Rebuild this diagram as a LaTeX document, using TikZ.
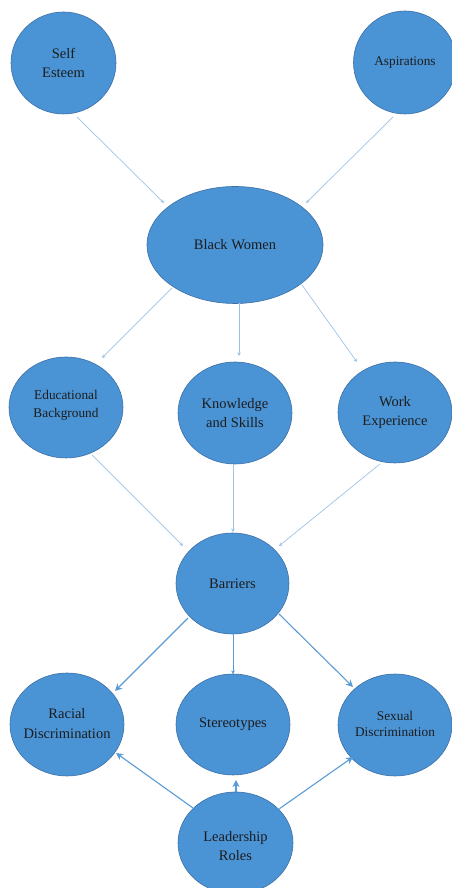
\documentclass[tikz,border=0pt]{standalone}
\usepackage{fontspec}
\setmainfont{Liberation Serif}
\usetikzlibrary{shapes.geometric,arrows.meta,calc}
\definecolor{nodefill}{RGB}{74,148,214}
\definecolor{nodeline}{RGB}{60,110,165}
\definecolor{txt}{RGB}{28,28,28}
\definecolor{lightarr}{RGB}{157,195,230}
\definecolor{darkarr}{RGB}{91,155,213}
\tikzset{
  nd/.style={ellipse, fill=nodefill, draw=nodeline, line width=0.6pt, inner sep=0pt, outer sep=0pt},
  big/.style={font=\fontsize{14.5}{19.5}\selectfont, text=txt, align=center, inner sep=0pt},
  small/.style={font=\fontsize{13.3}{17.5}\selectfont, text=txt, align=center, inner sep=0pt},
  thinarr/.style={draw=lightarr, line width=0.7pt, -{Stealth[length=3.5pt,width=3.5pt]}},
  midarr/.style={draw=darkarr, line width=0.8pt, -{Stealth[length=3.5pt,width=3.5pt]}},
  thickarr/.style={draw=darkarr, line width=1.1pt, -{Stealth[length=7pt,width=7pt,inset=2pt]}},
}
\begin{document}
\begin{tikzpicture}[x=1pt,y=1pt]
\useasboundingbox (0,0) rectangle (452,888);
\node[nd, minimum width=105pt, minimum height=102pt, label={[big]center:{Self\\Esteem}}] (se) at (63.5,825) {};
\node[nd, minimum width=103pt, minimum height=103pt, label={[small]center:{Aspirations}}] (asp) at (405,825.5) {};
\node[nd, minimum width=176pt, minimum height=117pt, label={[big]center:{Black Women}}] (bw) at (235,643) {};
\node[nd, minimum width=114pt, minimum height=101pt, label={[small,yshift=2pt]center:{Educational\\Background}}] (edu) at (66,480.5) {};
\node[nd, minimum width=114pt, minimum height=102pt, label={[big]center:{Knowledge\\and Skills}}] (ks) at (235,475) {};
\node[nd, minimum width=114pt, minimum height=101pt, label={[big]center:{Work\\Experience}}] (we) at (395,475.5) {};
\node[nd, minimum width=113pt, minimum height=101pt, label={[big]center:{Barriers}}] (bar) at (232.5,304.5) {};
\node[nd, minimum width=114pt, minimum height=103pt, label={[big,yshift=1pt]center:{Racial\\Discrimination}}] (rac) at (67,163.5) {};
\node[nd, minimum width=114pt, minimum height=101pt, label={[big]center:{Stereotypes}}] (ste) at (233,163.5) {};
\node[nd, minimum width=114pt, minimum height=102pt, label={[small,font=\fontsize{13.3}{15.5}\selectfont,yshift=1pt]center:{Sexual\\Discrimination}}] (sex) at (395,163) {};
\node[nd, minimum width=115pt, minimum height=102pt, label={[big,yshift=-3pt]center:{Leadership\\Roles}}] (lead) at (235.5,45) {};

\draw[thinarr] ($(se)+(13.5,-54)$) -- ($(bw)+(-71,42)$);
\draw[thinarr] ($(asp)+(-12,-54.5)$) -- ($(bw)+(71,42)$);
\draw[thinarr] ($(bw)+(-63,-43)$) -- ($(edu)+(36,49.5)$);
\draw[thinarr] ($(bw)+(4,-58)$) -- ($(ks)+(4,57)$);
\draw[thinarr] ($(bw)+(67,-40)$) -- ($(we)+(-38,50.5)$);
\draw[thinarr] ($(edu)+(26,-47.5)$) -- ($(bar)+(-49.5,37.5)$);
\draw[thinarr] ($(ks)+(-2,-51)$) -- ($(bar)+(0.5,51.5)$);
\draw[thinarr] ($(we)+(-15,-51.5)$) -- ($(bar)+(46.5,37.5)$);
\draw[thickarr] ($(bar)+(-44.5,-34.5)$) -- ($(rac)+(48,33.5)$);
\draw[midarr] ($(bar)+(0.5,-49.5)$) -- ($(ste)+(0,50.5)$);
\draw[thickarr] ($(bar)+(46.5,-30.5)$) -- ($(sex)+(-42,38)$);
\draw[thickarr] ($(lead)+(-42.5,35)$) -- ($(rac)+(49,-28.5)$);
\draw[thickarr] ($(lead)+(0.5,51)$) -- ($(ste)+(3,-55.5)$);
\draw[thickarr] ($(lead)+(43.5,34)$) -- ($(sex)+(-42,-32)$);
\end{tikzpicture}
\end{document}
